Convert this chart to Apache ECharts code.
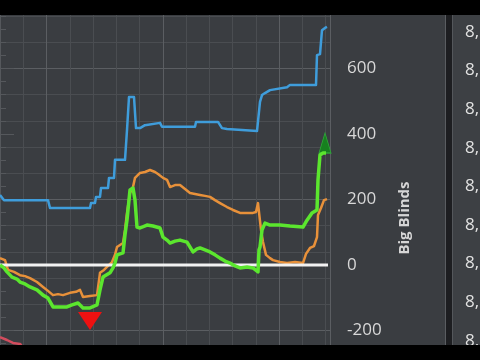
<!DOCTYPE html>
<html>
<head>
<meta charset="utf-8">
<script src="https://cdn.jsdelivr.net/npm/echarts@6.0.0/dist/echarts.min.js"></script>
<style>html,body{margin:0;padding:0;background:#000;width:480px;height:360px;overflow:hidden;}#c{position:absolute;left:0;top:15px;width:480px;height:330px;}</style>
</head>
<body>
<div id="c"></div>
<script>
// ---- data: [hand, big blinds] ----
var blueLine = [[0,214],[16,198],[192,198],[200,174],[360,174],[364,189],[380,189],[384,208],[400,208],[404,235],[432,235],[436,266],[456,266],[460,321],[500,321],[508,412],[512,412],[516,513],[536,513],[544,418],[560,418],[580,427],[640,434],[648,422],[780,422],[784,437],[872,437],[888,418],[908,415],[1028,409],[1032,406],[1040,498],[1048,519],[1060,525],[1080,534],[1088,540],[1148,543],[1160,550],[1264,550],[1268,641],[1280,644],[1288,717],[1300,724],[1308,727]];
var orangeLine = [[0,21],[20,15],[32,-15],[56,-21],[80,-31],[100,-34],[120,-40],[148,-52],[172,-67],[192,-79],[212,-92],[232,-89],[252,-92],[280,-85],[304,-82],[320,-76],[332,-98],[360,-95],[388,-92],[400,-24],[416,-15],[428,-6],[448,9],[460,31],[468,55],[492,67],[500,107],[508,159],[520,220],[532,238],[540,266],[560,281],[580,284],[600,290],[620,284],[632,278],[652,266],[668,260],[680,238],[700,244],[720,244],[740,232],[760,220],[780,217],[800,214],[820,211],[840,208],[860,198],[880,189],[908,177],[932,168],[960,159],[1012,159],[1024,162],[1032,189],[1040,183],[1044,107],[1052,70],[1064,31],[1080,21],[1092,15],[1120,9],[1148,6],[1180,9],[1212,6],[1224,34],[1240,52],[1256,58],[1268,85],[1272,153],[1284,174],[1296,198],[1308,201]];
var greenLine = [[0,0],[16,-9],[28,-21],[48,-37],[68,-43],[80,-52],[100,-58],[120,-67],[148,-76],[172,-92],[192,-101],[200,-107],[212,-128],[240,-128],[268,-128],[288,-122],[312,-116],[320,-113],[332,-131],[360,-131],[388,-122],[400,-76],[412,-37],[440,-24],[452,-9],[460,6],[468,31],[492,37],[500,92],[508,137],[520,229],[532,235],[540,198],[548,116],[560,113],[588,122],[612,119],[640,113],[652,85],[668,76],[680,67],[700,73],[720,76],[748,70],[772,40],[788,49],[800,52],[820,46],[840,40],[860,31],[880,21],[900,12],[920,6],[940,-3],[960,-9],[988,-6],[1012,-9],[1032,-21],[1036,46],[1040,55],[1048,107],[1060,128],[1080,122],[1120,122],[1160,119],[1212,116],[1228,137],[1248,159],[1268,168],[1272,260],[1280,336],[1292,342],[1304,342]];
var redLine = [[0,-220],[28,-229],[52,-238],[80,-241],[100,-259],[140,-280]];
var zeroLine = [[0,0],[1312,0]];
var greenEndMark = [1300,342];
var greenLowMark = [360,-131];
var yAxisTitle = 'Big Blinds';
var panelLabels = ['8,','8,','8,','8,','8,','8,','8,','8,','8,'];

var chart = echarts.init(document.getElementById('c'), null, {renderer:'canvas'});
var FONT = '"Open Sans", "DejaVu Sans", sans-serif';
var minorGrid = '#4a4d51', majorGrid = '#5b5e62';

var graphics = [
  {type:'rect', shape:{x:445,y:0,width:1,height:330}, style:{fill:'#5a5d61'}, z:90},
  {type:'rect', shape:{x:446,y:0,width:6,height:330}, style:{fill:'#1d1e21'}, z:90},
  {type:'rect', shape:{x:452,y:0,width:1,height:330}, style:{fill:'#54575b'}, z:90},
  {type:'rect', shape:{x:453,y:0,width:27,height:330}, style:{fill:'#3d4044'}, z:90},
  {type:'text', x:405, y:203, rotation:Math.PI/2, z:95,
   style:{text:yAxisTitle, fill:'#d6d6d6', font:'bold 15px ' + FONT, textAlign:'center', textVerticalAlign:'middle'}}
];
panelLabels.forEach(function(t, i){
  graphics.push({type:'text', x:465, y:17 + i*38.6, z:95,
    style:{text:t, fill:'#e2e2e2', font:'17px ' + FONT, textAlign:'left', textVerticalAlign:'middle'}});
});

function hiddenAxis(extra, color){
  return Object.assign({type:'value', axisLine:{show:false}, axisTick:{show:false}, minorTick:{show:false},
    axisLabel:{show:false}, splitArea:{show:false},
    splitLine:{show:true, lineStyle:{color:color, width:1}}}, extra);
}

var option = {
  backgroundColor:'#3a3d41',
  animation:false,
  graphic: graphics,
  grid:{left:-69.75, right:150, top:-77.5, bottom:-116.5, show:false, containLabel:false, outerBoundsMode:'none'},
  xAxis:[
    hiddenAxis({min:-279, max:1320, interval:93}, minorGrid),
    hiddenAxis({min:0, max:1599, interval:465}, majorGrid)
  ],
  yAxis:[
    {type:'value', position:'right', min:-600, max:1000, interval:200,
     axisLine:{show:true, lineStyle:{color:'#55585c', width:1}},
     axisTick:{show:true, length:14, lineStyle:{color:'#55585c'}},
     minorTick:{show:true, splitNumber:5, length:6, lineStyle:{color:'#55585c'}},
     splitLine:{show:false},
     axisLabel:{show:true, margin:17, color:'#d8d8d8', fontSize:17, fontFamily:FONT}},
    hiddenAxis({min:-560, max:1040, interval:80, position:'left'}, minorGrid),
    hiddenAxis({min:-400, max:1200, interval:400, position:'left'}, majorGrid)
  ],
  series:[
    {type:'line', data:redLine, symbol:'none', lineStyle:{color:'#d24d5e', width:2.5}, z:3},
    {type:'line', data:blueLine, symbol:'none', lineStyle:{color:'#3f9ddb', width:2.5, join:'round'}, z:4},
    {type:'line', data:orangeLine, symbol:'none', lineStyle:{color:'#e8913a', width:2.5, join:'round'}, z:5},
    {type:'line', data:zeroLine, symbol:'none', lineStyle:{color:'#f2f2f2', width:3}, z:6},
    {type:'line', data:greenLine, symbol:'none', lineStyle:{color:'#5be62e', width:3.5, join:'round'}, z:7,
     markPoint:{silent:true, label:{show:false}, data:[
       {coord:greenEndMark, symbol:'triangle', symbolSize:[12,20], symbolOffset:[0,-10],
        itemStyle:{color:'#17801f', borderColor:'#2fa53a', borderWidth:1}},
       {coord:greenLowMark, symbol:'triangle', symbolRotate:180, symbolSize:[24,18], symbolOffset:[0,13],
        itemStyle:{color:'#ee1111'}}
     ]}}
  ]
};
chart.setOption(option);
</script>
</body>
</html>
